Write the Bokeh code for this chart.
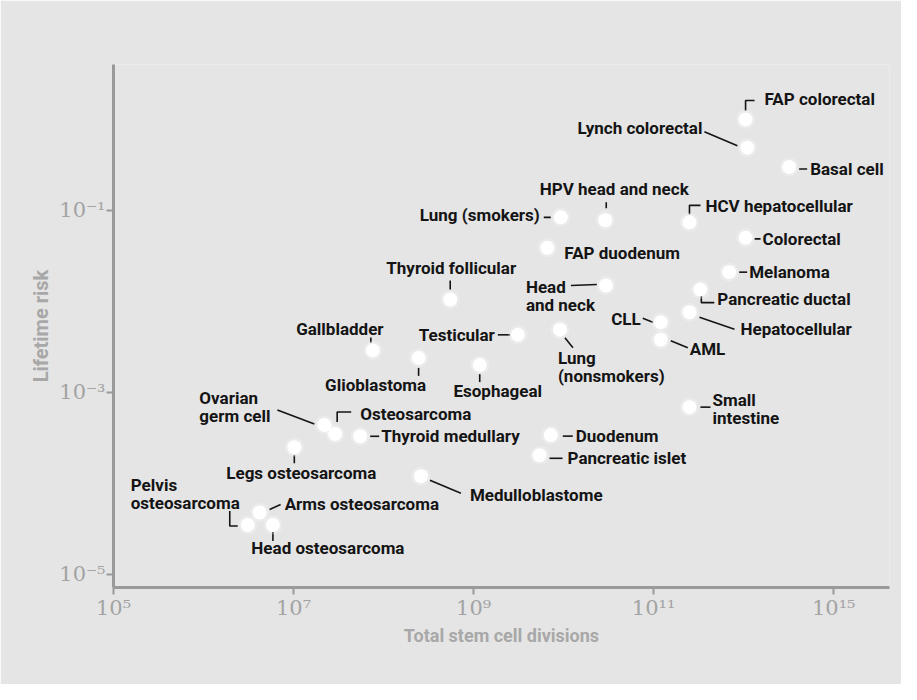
import math
from bokeh.plotting import figure
from bokeh.models import Range1d, FixedTicker
from bokeh.core.properties import value
from bokeh.embed import file_html
from bokeh.resources import INLINE

# ---------------- data ----------------
cancers = [
    "FAP colorectal", "Lynch colorectal", "Basal cell", "HPV head and neck",
    "Lung (smokers)", "HCV hepatocellular", "Colorectal", "FAP duodenum",
    "Melanoma", "Pancreatic ductal", "Head\nand neck", "Thyroid follicular",
    "Hepatocellular", "CLL", "AML", "Testicular", "Lung\n(nonsmokers)",
    "Gallbladder", "Glioblastoma", "Esophageal", "Ovarian\ngerm cell",
    "Osteosarcoma", "Thyroid medullary", "Legs osteosarcoma", "Medulloblastome",
    "Pelvis\nosteosarcoma", "Arms osteosarcoma", "Head osteosarcoma",
    "Small\nintestine", "Duodenum", "Pancreatic islet",
]
stem_cell_divisions = [
    1.05e12, 1.1e12, 3.2e12, 2.9e10,
    9.3e9, 2.5e11, 1.05e12, 6.6e9,
    6.9e11, 3.3e11, 2.95e10, 5.5e8,
    2.5e11, 1.2e11, 1.2e11, 3.1e9, 9.1e9,
    7.6e7, 2.45e8, 1.17e9, 2.2e7,
    2.9e7, 5.5e7, 1.02e7, 2.6e8,
    3.1e6, 4.2e6, 5.9e6,
    2.5e11, 7.2e9, 5.4e9,
]
lifetime_risk = [
    1.0, 0.49, 0.30, 0.078,
    0.084, 0.074, 0.050, 0.039,
    0.021, 0.0135, 0.015, 0.0105,
    0.0076, 0.0059, 0.0038, 0.0043, 0.0049,
    0.0029, 0.0024, 0.0020, 0.00044,
    0.00035, 0.00033, 0.00025, 0.00012,
    3.5e-5, 4.8e-5, 3.5e-5,
    0.00069, 0.00034, 0.000204,
]
x_ticks = [1e5, 1e7, 1e9, 1e11, 1e13]
x_tick_labels = ["10\u2075", "10\u2077", "10\u2079", "10\u00b9\u00b9", "10\u00b9\u2075"]
y_ticks = [1e-1, 1e-3, 1e-5]
y_tick_labels = ["10\u207b\u00b9", "10\u207b\u00b3", "10\u207b\u2075"]
x_title = "Total stem cell divisions"
y_title = "Lifetime risk"

# ---------------- layout (pixel offsets of labels / leader lines) ----------------
LAYOUT = [
    (19, -20, "left", [(0, -9), (0, -19), (9, -19)]),
    (-45, -20, "right", [(-43, -16), (-10, -2)]),
    (21, 2, "left", [(10, 2), (18, 2)]),
    (9, -31, "center", [(1, -18), (1, -12)]),
    (-21, -2, "right", [(-17, 0), (-10, 0)]),
    (16, -16, "left", [(0, -8), (0, -17), (11, -17)]),
    (17, 1, "left", [(9, 1), (15, 1)]),
    (17, 5, "left", []),
    (20, 0, "left", [(10, 0), (18, 0)]),
    (17, 9, "left", [(1, 6), (1, 13), (14, 13)]),
    (-80, 2, "left", [(-35, 0), (-9, -1)]),
    (1, -32, "center", [(0, -19), (0, -10)]),
    (51, 17, "left", [(10, 5), (45, 17)]),
    (-20, -3, "right", [(-18, -4), (-8, 0)]),
    (29, 9, "left", [(10, 1), (27, 8)]),
    (-23, 0, "right", [(-20, 0), (-8, 0)]),
    (-2, 28, "left", [(5, 8), (13, 18)]),
    (-33, -21, "center", [(-2, -13), (-2, -8)]),
    (-43, 27, "center", [(0, 10), (0, 18)]),
    (18, 26, "center", [(0, 9), (0, 17)]),
    (-125, -27, "left", [(-47, -15), (-10, -1)]),
    (25, -20, "left", [(2, -12), (2, -22), (16, -22)]),
    (21, 0, "left", [(10, 0), (19, 0)]),
    (7, 26, "center", [(0, 8), (0, 16)]),
    (49, 19, "left", [(9, 4), (40, 17)]),
    (-117, -40, "left", [(-18, -14), (-18, 1), (-10, 1)]),
    (25, -8, "left", [(10, -3), (21, -8)]),
    (55, 23, "center", [(0, 7), (0, 16)]),
    (23, -7, "left", [(11, 0), (21, 0)]),
    (25, 1, "left", [(12, 1), (22, 1)]),
    (28, 3, "left", [(10, 3), (23, 3)]),
]
LINE_H = 18

BG = "#e5e5e5"
AXIS = "#9a9a9a"
INK = "#141414"

FW, FH = 776, 523
XMIN, XMAX = 1e5, 10 ** 13.62
YMIN, YMAX = 10 ** -5.143, 10 ** 0.604
ppx = FW / (math.log10(XMAX) - math.log10(XMIN))
ppy = FH / (math.log10(YMAX) - math.log10(YMIN))


def shift(x, y, dx, dy):
    return x * 10 ** (dx / ppx), y * 10 ** (-dy / ppy)


p = figure(
    x_axis_type="log", y_axis_type="log",
    x_range=Range1d(XMIN, XMAX), y_range=Range1d(YMIN, YMAX),
    frame_width=FW, frame_height=FH,
    min_border_left=113, min_border_right=12, min_border_top=64, min_border_bottom=97,
    output_backend="svg", toolbar_location=None,
    background_fill_color=BG, border_fill_color=BG, outline_line_color=None,
)
p.grid.visible = False

p.xaxis.ticker = FixedTicker(ticks=x_ticks, minor_ticks=[])
p.yaxis.ticker = FixedTicker(ticks=y_ticks, minor_ticks=[])
p.xaxis.major_label_overrides = {t: l for t, l in zip(x_ticks, x_tick_labels)}
p.yaxis.major_label_overrides = {t: l for t, l in zip(y_ticks, y_tick_labels)}
p.xaxis.axis_label = x_title
p.yaxis.axis_label = y_title
for ax in (p.xaxis, p.yaxis):
    ax.axis_line_color = AXIS
    ax.axis_line_width = 3
    ax.major_tick_line_color = AXIS
    ax.major_tick_line_width = 2
    ax.major_tick_out = 7
    ax.major_tick_in = 0
    ax.minor_tick_line_color = None
    ax.major_label_text_font = "DejaVu Serif"
    ax.major_label_text_font_size = "21px"
    ax.major_label_text_color = "#a3a3a3"
    ax.axis_label_text_font = "Roboto"
    ax.axis_label_text_font_style = "bold"
    ax.axis_label_text_color = "#a8a8a8"
p.xaxis.axis_label_text_font_size = "18px"
p.yaxis.axis_label_text_font_size = "20px"
p.xaxis.major_label_standoff = 1
p.yaxis.major_label_standoff = 1
p.xaxis.axis_label_standoff = 2
p.yaxis.axis_label_standoff = 3

# leader lines
lxs, lys = [], []
for x, y, lay in zip(stem_cell_divisions, lifetime_risk, LAYOUT):
    pts = lay[3]
    if pts:
        sx, sy = zip(*[shift(x, y, dx, dy) for dx, dy in pts])
        lxs.append(list(sx))
        lys.append(list(sy))
p.multi_line(lxs, lys, line_color=INK, line_width=1.6)

# points (soft white dots)
p.scatter(stem_cell_divisions, lifetime_risk, size=19, fill_color="white",
          fill_alpha=0.25, line_color=None)
p.scatter(stem_cell_divisions, lifetime_risk, size=14, fill_color="white",
          line_color=None)

# labels
groups = {"left": ([], [], []), "right": ([], [], []), "center": ([], [], [])}
for name, x, y, lay in zip(cancers, stem_cell_divisions, lifetime_risk, LAYOUT):
    dx, dy, align = lay[0], lay[1], lay[2]
    for i, line in enumerate(name.split("\n")):
        tx, ty = shift(x, y, dx, dy + i * LINE_H)
        g = groups[align]
        g[0].append(tx)
        g[1].append(ty)
        g[2].append(line)
for align, (gx, gy, gt) in groups.items():
    if gx:
        p.text(x=gx, y=gy, text=gt, text_font=value("Roboto"), text_font_size="17px",
               text_font_style="bold", text_color=INK, text_align=align,
               text_baseline="middle")

open("out.html", "w").write(file_html(p, INLINE))
